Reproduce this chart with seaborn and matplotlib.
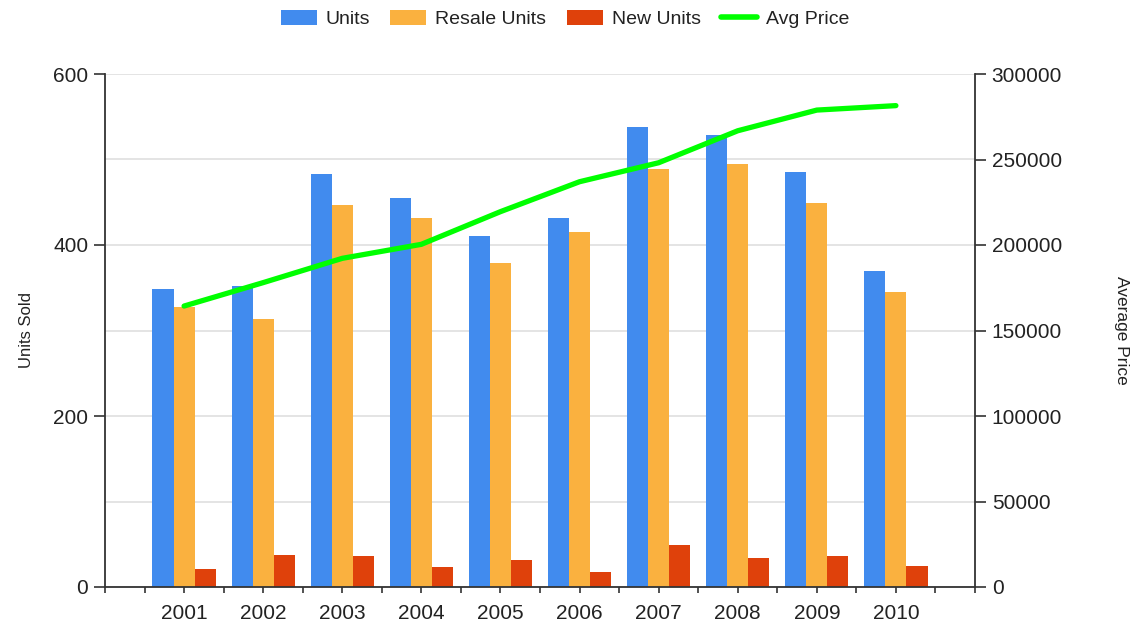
import matplotlib
matplotlib.use("Agg")
import matplotlib.pyplot as plt
from matplotlib.patches import Patch
from matplotlib.lines import Line2D
from matplotlib.ticker import MultipleLocator
import numpy as np
import pandas as pd
import seaborn as sns

years = ["2001", "2002", "2003", "2004", "2005", "2006", "2007", "2008", "2009", "2010"]
units = [349, 352, 483, 455, 411, 432, 538, 529, 485, 370]
resale_units = [328, 314, 447, 432, 379, 415, 489, 495, 449, 345]
new_units = [21, 38, 36, 23, 32, 17, 49, 34, 36, 25]
avg_price = [164300, 178000, 192200, 200400, 219500, 237000, 248100, 266800, 278900, 281500]

series_names = ["Units", "Resale Units", "New Units"]
colors = {"Units": "#418bee", "Resale Units": "#fab13f", "New Units": "#df410b"}
line_color = "#00ff00"

sns.set_theme(style="white")
plt.rcParams["font.family"] = ["Liberation Sans", "DejaVu Sans"]
text_color = "#222222"

df = pd.DataFrame({
    "Year": years * 3,
    "Value": units + resale_units + new_units,
    "Series": [s for s in series_names for _ in years],
})

fig = plt.figure(figsize=(11.39, 6.23), dpi=100)
ax = fig.add_axes([105 / 1139, 1 - 587 / 623, (975 - 105) / 1139, (587 - 74) / 623])

sns.barplot(data=df, x="Year", y="Value", hue="Series", hue_order=series_names,
            order=years, palette=colors, width=0.8, gap=0, ax=ax, legend=False,
            edgecolor="none", linewidth=0, saturation=1)

ax.set_xlim(-1, 10)
ax.set_ylim(0, 600)
ax.yaxis.set_major_locator(MultipleLocator(200))
ax.yaxis.set_minor_locator(MultipleLocator(100))
ax.grid(True, axis="y", which="both", color="#e2e2e2", linewidth=1.3)
ax.set_axisbelow(True)
ax.xaxis.set_minor_locator(MultipleLocator(0.5))
ax.tick_params(axis="x", which="both", length=4, width=1.2, color="#333333",
               labelsize=15, labelcolor=text_color, pad=8, bottom=True)
ax.tick_params(axis="y", which="major", length=8, width=1.2, color="#333333",
               labelsize=15, labelcolor=text_color, pad=4, left=True)
ax.tick_params(axis="y", which="minor", length=0)
ax.set_xlabel("")
ax.set_ylabel("Units Sold", fontsize=12, color=text_color, labelpad=14)
for side in ["top", "right"]:
    ax.spines[side].set_visible(False)
for side in ["left", "bottom"]:
    ax.spines[side].set_color("#333333")
    ax.spines[side].set_linewidth(1.3)

ax2 = ax.twinx()
sns.lineplot(x=np.arange(len(years)), y=avg_price, ax=ax2, color=line_color,
             linewidth=3.8, solid_capstyle="round", solid_joinstyle="round")
ax2.set_xlim(-1, 10)
ax2.set_ylim(0, 300000)
ax2.yaxis.set_major_locator(MultipleLocator(50000))
ax2.tick_params(axis="y", length=8, width=1.2, color="#333333", labelsize=15,
                labelcolor=text_color, pad=4, right=True)
ax2.set_ylabel("Average Price", fontsize=12.5, color=text_color, rotation=270, labelpad=48)
for side in ["top", "left", "bottom"]:
    ax2.spines[side].set_visible(False)
ax2.spines["right"].set_color("#333333")
ax2.spines["right"].set_linewidth(1.3)
ax2.grid(False)

handles = [Patch(facecolor=colors[s], edgecolor="none", label=s) for s in series_names]
handles.append(Line2D([0], [0], color=line_color, linewidth=4, label="Avg Price"))
fig.legend(handles=handles, loc="upper center", bbox_to_anchor=(0.496, 1.012), ncol=4,
           frameon=False, fontsize=14, handlelength=1.85, handleheight=0.8,
           handletextpad=0.46, columnspacing=1.05, labelcolor=text_color)

fig.savefig("out.png", dpi=100)
